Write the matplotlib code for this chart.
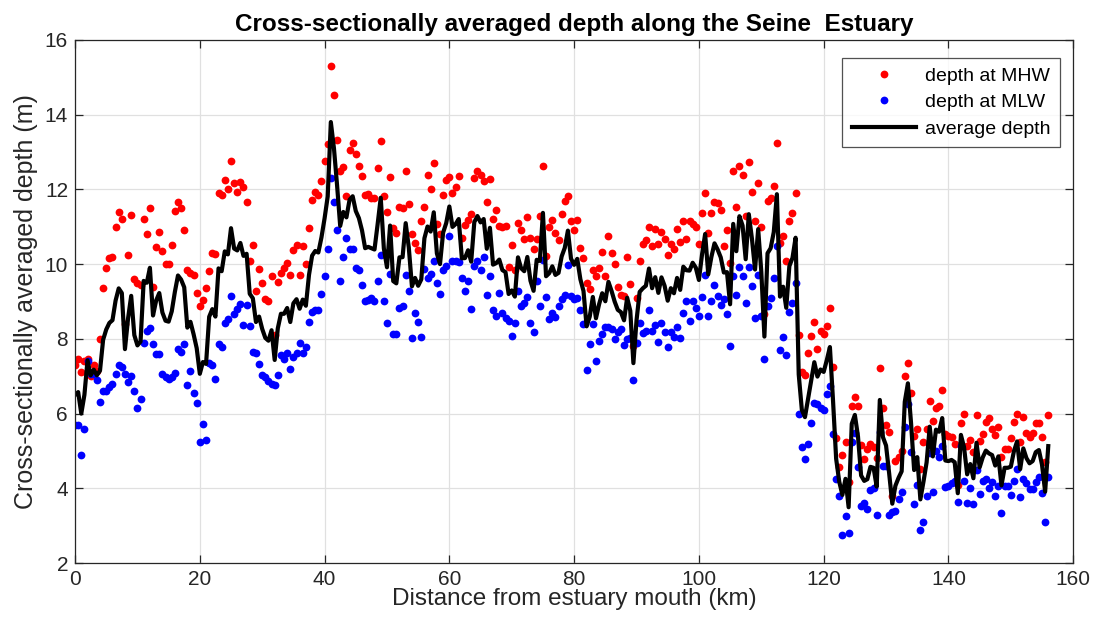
import numpy as np
import matplotlib
matplotlib.use("Agg")
import matplotlib.pyplot as plt

plt.rcParams['font.family'] = ['Liberation Sans', 'DejaVu Sans']

# Depth at mean high water (m), one station every 0.5 km from the mouth
mhw = [
    7.3, 7.45, 7.1, 7.4, 7.45, 7.0, 7.3, 7.15, 8.0, 9.35,
    9.9, 10.15, 10.2, 11.0, 11.4, 11.2, 8.4, 10.25, 11.3, 9.6,
    9.5, 9.45, 11.2, 10.8, 11.5, 9.4, 10.45, 10.85, 10.35, 10.0,
    10.0, 10.5, 11.43, 11.67, 11.51, 10.9, 9.83, 9.76, 9.71, 9.22,
    8.88, 9.04, 9.37, 9.82, 10.29, 10.27, 11.91, 11.85, 12.25, 12.0,
    12.77, 12.16, 11.94, 12.2, 12.07, 11.65, 10.07, 10.51, 9.29, 9.86,
    9.5, 9.06, 9.02, 9.67, 8.1, 9.53, 9.77, 9.89, 10.04, 9.71,
    10.38, 10.51, 9.71, 10.49, 10.0, 10.96, 11.72, 11.94, 11.85, 12.23,
    12.77, 13.22, 15.3, 14.53, 13.32, 12.48, 12.61, 11.81, 13.04, 13.23,
    12.95, 12.63, 12.36, 11.85, 11.88, 11.76, 11.76, 12.57, 13.3, 11.81,
    11.4, 12.32, 10.96, 10.84, 11.54, 11.49, 12.48, 11.61, 10.8, 10.56,
    10.38, 11.14, 11.52, 12.39, 12.0, 12.7, 11.07, 10.8, 11.85, 12.25,
    12.34, 11.9, 12.07, 12.36, 10.69, 11.05, 11.18, 11.34, 12.3, 12.48,
    12.39, 12.21, 11.65, 12.27, 11.2, 11.45, 11.02, 10.99, 11.02, 9.91,
    10.51, 9.84, 11.09, 10.9, 10.67, 11.25, 10.69, 10.4, 10.67, 11.29,
    12.63, 10.22, 10.99, 11.18, 10.84, 10.65, 11.35, 11.7, 11.81, 11.14,
    10.9, 11.18, 10.42, 10.16, 9.5, 9.33, 9.84, 9.68, 9.9, 10.31,
    9.68, 10.74, 10.3, 10.0, 9.38, 9.17, 9.15, 10.2, 9.48, 7.8,
    9.1, 10.08, 10.55, 10.64, 10.99, 10.49, 10.93, 10.54, 10.87, 10.67,
    10.25, 10.54, 10.4, 10.93, 10.6, 11.16, 10.67, 11.16, 11.07, 10.99,
    10.54, 11.38, 11.9, 10.84, 11.38, 11.67, 11.63, 11.45, 10.49, 10.9,
    10.04, 12.48, 11.52, 12.63, 12.39, 11.29, 12.74, 11.94, 11.16, 12.16,
    11.0, 8.67, 11.7, 11.76, 12.09, 13.25, 10.56, 10.75, 10.09, 11.16,
    11.38, 11.91, 8.1, 7.1, 7.03, 7.61, 8.08, 8.46, 7.72, 8.22,
    8.13, 8.34, 8.82, 7.24, 5.34, 4.56, 4.9, 5.25, 4.18, 6.2,
    6.44, 6.2, 5.16, 4.78, 5.05, 5.19, 5.1, 4.8, 7.21, 6.14,
    5.69, 5.5, 3.8, 4.74, 4.85, 5.0, 7.0, 7.36, 6.56, 5.4,
    5.58, 4.53, 5.25, 5.6, 6.35, 5.8, 6.14, 6.2, 6.63, 5.45,
    5.4, 5.37, 5.2, 4.1, 5.74, 6.0, 5.13, 5.3, 4.96, 5.96,
    5.27, 5.45, 5.78, 5.87, 5.6, 5.43, 5.65, 4.83, 5.04, 5.04,
    5.34, 5.78, 6.0, 5.25, 5.9, 5.47, 5.37, 5.49, 5.76, 5.74,
    5.38, 4.71, 5.96,
]

# Depth at mean low water (m), same stations
mlw = [
    5.7, 5.7, 4.9, 5.6, 7.4, 7.05, 7.05, 6.9, 6.3, 6.6,
    6.6, 6.7, 6.8, 7.05, 7.3, 7.25, 7.05, 6.85, 7.0, 6.6,
    6.15, 6.4, 7.9, 8.2, 8.3, 7.85, 7.6, 7.6, 7.06, 6.97,
    6.92, 6.97, 7.08, 7.72, 7.66, 7.86, 6.77, 7.15, 6.54, 6.28,
    5.25, 5.72, 5.29, 7.36, 7.3, 6.92, 7.86, 7.77, 8.43, 8.52,
    9.15, 8.67, 8.79, 8.93, 8.37, 8.9, 8.34, 7.66, 7.61, 7.33,
    7.03, 6.99, 6.88, 6.79, 6.77, 7.03, 7.57, 7.45, 7.61, 7.19,
    7.52, 7.61, 7.9, 7.61, 7.77, 8.46, 8.73, 8.76, 8.77, 9.2,
    9.68, 10.4, 12.3, 11.67, 10.9, 9.56, 10.18, 10.69, 10.4, 10.4,
    9.89, 9.83, 9.44, 9.0, 9.04, 9.09, 9.02, 9.56, 10.25, 9.02,
    8.43, 9.74, 8.13, 8.13, 8.82, 8.88, 9.71, 9.27, 8.01, 8.7,
    8.46, 8.04, 9.86, 9.62, 9.74, 10.07, 9.5, 9.2, 9.83, 9.95,
    10.74, 10.09, 10.07, 10.05, 9.62, 9.27, 9.56, 8.79, 9.95, 10.09,
    9.84, 10.2, 9.17, 9.67, 8.77, 8.6, 9.22, 8.69, 8.55, 8.49,
    8.08, 8.42, 9.27, 8.88, 8.95, 9.13, 8.42, 8.17, 9.56, 8.88,
    10.11, 9.13, 8.52, 8.7, 8.58, 8.88, 9.06, 9.17, 9.98, 9.15,
    9.06, 9.1, 8.77, 8.4, 7.17, 7.86, 8.4, 7.42, 7.95, 8.13,
    8.33, 8.31, 8.26, 7.99, 8.17, 8.26, 7.84, 8.0, 8.02, 6.9,
    7.88, 8.43, 8.15, 8.2, 8.77, 8.22, 8.37, 7.92, 8.42, 8.17,
    7.79, 8.17, 8.04, 8.33, 8.02, 8.7, 9.0, 8.49, 9.0, 8.82,
    8.61, 9.13, 9.71, 8.61, 9.0, 9.44, 9.15, 8.91, 9.06, 8.67,
    7.81, 9.67, 9.17, 9.93, 9.67, 8.97, 9.93, 9.42, 8.55, 9.71,
    8.6, 7.45, 8.88, 9.09, 9.62, 10.49, 7.7, 8.04, 7.57, 8.73,
    8.95, 9.5, 6.0, 5.1, 4.78, 5.19, 5.74, 6.29, 6.26, 6.14,
    6.1, 6.52, 6.74, 5.45, 4.24, 3.79, 2.75, 3.26, 2.81, 5.25,
    5.49, 4.58, 3.53, 3.62, 3.44, 3.96, 4.0, 3.29, 5.52, 4.6,
    4.6, 3.29, 3.38, 3.4, 3.71, 3.91, 5.63, 6.26, 4.96, 3.58,
    4.09, 2.88, 3.11, 3.79, 4.95, 3.91, 5.0, 4.83, 5.13, 4.04,
    4.06, 4.15, 4.2, 3.64, 5.12, 4.2, 3.62, 4.0, 3.58, 4.48,
    3.85, 4.21, 4.24, 4.0, 4.18, 3.79, 4.06, 3.33, 4.06, 4.06,
    3.82, 4.21, 4.51, 3.78, 4.24, 4.15, 3.97, 3.97, 4.18, 4.31,
    3.88, 3.11, 4.3,
]

station_spacing_km = 0.5
distance = np.arange(len(mhw)) * station_spacing_km
mean_depth = (np.asarray(mhw) + np.asarray(mlw)) / 2.0

x_ticks = [0, 20, 40, 60, 80, 100, 120, 140, 160]
y_ticks = [2, 4, 6, 8, 10, 12, 14, 16]

fig = plt.figure(figsize=(10.94, 6.32), dpi=100)
ax = fig.add_axes([0.0686, 0.109, 0.9124, 0.828])

ax.plot(distance, mhw, 'o', color='#ff0000', ms=5.6, mec='none', label='depth at MHW')
ax.plot(distance, mlw, 'o', color='#0000ff', ms=5.6, mec='none', label='depth at MLW')
ax.plot(distance, mean_depth, '-', color='black', lw=3.0, label='average depth')

ax.set_xlim(0, 160)
ax.set_ylim(2, 16)
ax.set_xticks(x_ticks)
ax.set_yticks(y_ticks)
ax.grid(True, color='#e0e0e0', lw=0.9)
ax.set_axisbelow(True)

edge = '#262626'
for s in ax.spines.values():
    s.set_color(edge)
    s.set_linewidth(0.9)
ax.tick_params(direction='in', length=6, width=0.9, colors=edge,
               labelsize=15, top=True, right=True, labeltop=False,
               labelright=False, pad=5)

ax.set_xlabel('Distance from estuary mouth (km)', fontsize=17.5, color=edge, labelpad=-1)
ax.set_ylabel('Cross-sectionally averaged depth (m)', fontsize=18, color=edge, labelpad=5)
ax.set_title('Cross-sectionally averaged depth along the Seine  Estuary',
             fontsize=17.5, fontweight='bold', color='black', pad=6)

leg = ax.legend(loc='upper right', bbox_to_anchor=(0.987, 0.966), borderaxespad=0,
                fontsize=14, frameon=True, fancybox=False, handlelength=3.3,
                handletextpad=0.45, labelspacing=0.45, borderpad=0.5)
leg.get_frame().set_edgecolor(edge)
leg.get_frame().set_linewidth(0.9)

fig.savefig('out.png', dpi=100)
